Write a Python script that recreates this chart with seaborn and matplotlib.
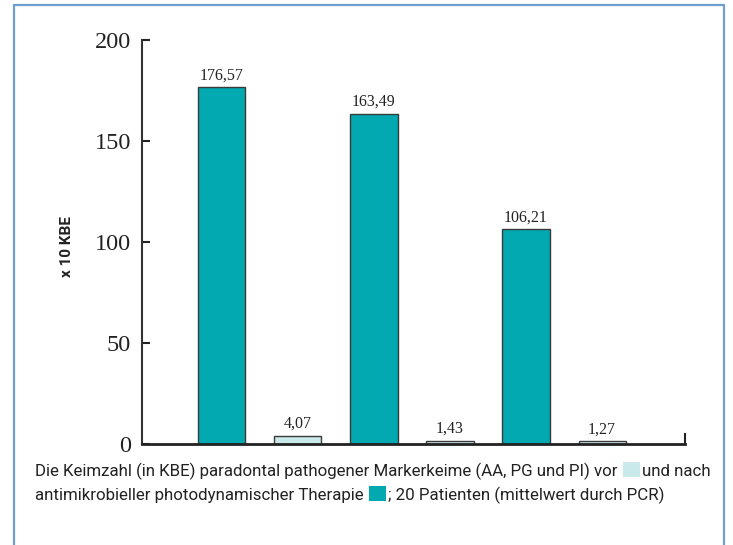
import matplotlib
matplotlib.use("Agg")
import matplotlib.pyplot as plt
import seaborn as sns
import pandas as pd
from matplotlib.patches import Rectangle
from matplotlib.lines import Line2D

# ---- data ----
categories = ["AA 1", "AA 2", "PG 1", "PG 2", "PI 1", "PI 2"]
values = [176.57, 4.07, 163.49, 1.43, 106.21, 1.27]
value_labels = ["176,57", "4,07", "163,49", "1,43", "106,21", "1,27"]
bar_colors = ["#02a9b1", "#c9e9eb", "#02a9b1", "#c9e9eb", "#02a9b1", "#c9e9eb"]
y_ticks = [0, 50, 100, 150, 200]
y_label = "x 10 KBE"
caption_1a = "Die Keimzahl (in KBE) paradontal pathogener Markerkeime (AA, PG und PI) vor "
caption_1b = "und nach"
caption_2a = "antimikrobieller photodynamischer Therapie "
caption_2b = "; 20 Patienten (mittelwert durch PCR)"

sns.set_theme(style="white")
serif = ["Liberation Serif", "DejaVu Serif"]
sans = ["Roboto", "Liberation Sans", "DejaVu Sans"]

W, H = 733, 545
fig = plt.figure(figsize=(W / 100, H / 100), dpi=100)
fig.patch.set_facecolor("white")

ax = fig.add_axes([142 / W, 1 - 444 / H, (685 - 142) / W, (444 - 40) / H])
df = pd.DataFrame({"cat": categories, "val": values})
sns.barplot(data=df, x="cat", y="val", hue="cat", palette=bar_colors,
            legend=False, width=0.62, ax=ax, saturation=1,
            edgecolor="#3a3a3a", linewidth=1.0)

for cont, lab in zip(ax.containers, value_labels):
    ax.bar_label(cont, labels=[lab], padding=3, fontsize=11.5,
                 family=serif, color="#222222")

ax.set_xlim(-1.05, 6.09)
ax.set_ylim(0, 200)
ax.set_yticks(y_ticks)
ax.set_yticklabels([str(t) for t in y_ticks], family=serif, fontsize=17.5,
                   color="#222222")
ax.tick_params(axis="y", direction="in", length=6, width=1.5, color="#222222",
               pad=8, left=True)
ax.set_xticks([])
ax.set_xlabel("")
ax.set_ylabel(y_label, family=sans, fontsize=11, fontweight="bold",
              color="#222222")
ax.yaxis.set_label_coords(-0.125, 0.49)

ax.spines["top"].set_visible(False)
ax.spines["left"].set_color("#333333")
ax.spines["left"].set_linewidth(1.5)
ax.spines["bottom"].set_color("#222222")
ax.spines["bottom"].set_linewidth(2)
ax.spines["right"].set_color("#222222")
ax.spines["right"].set_linewidth(1.5)
ax.spines["right"].set_bounds(0, 5)
ax.patch.set_alpha(0)

# frame
fc = "#6d9fd3"
fig.add_artist(Line2D([14 / W, 14 / W], [0, 1 - 5 / H], transform=fig.transFigure, color=fc, lw=1.6))
fig.add_artist(Line2D([724 / W, 724 / W], [0, 1 - 5 / H], transform=fig.transFigure, color=fc, lw=1.6))
fig.add_artist(Line2D([14 / W, 724 / W], [1 - 5 / H, 1 - 5 / H], transform=fig.transFigure, color=fc, lw=1.6))

# caption with inline swatches
fig.canvas.draw()
r = fig.canvas.get_renderer()
tcol = "#222222"
SW, SH = 17, 15

# fit font size so that line 1 ends near x=712
probe_fs = 12.0
pt = fig.text(0, 0, caption_1a + caption_1b, family=sans, fontsize=probe_fs)
pw = pt.get_window_extent(renderer=r).width
pt.remove()
fs = probe_fs * (712 - 35 - SW - 3) / pw


def put(x, y, s):
    t = fig.text(x / W, 1 - y / H, s, family=sans, fontsize=fs, color=tcol,
                 va="baseline", ha="left")
    bb = t.get_window_extent(renderer=r)
    return bb.x1


def swatch(x, y, color):
    fig.add_artist(Rectangle((x / W, 1 - (y + 1) / H), SW / W, SH / H,
                             transform=fig.transFigure, facecolor=color,
                             edgecolor="none"))
    return x + SW


x = put(35, 476, caption_1a)
x = swatch(x + 1, 476, bar_colors[1])
put(x + 2, 476, caption_1b)

x = put(35, 500, caption_2a)
x = swatch(x + 1, 500, bar_colors[0])
put(x + 2, 500, caption_2b)

fig.savefig("out.png", dpi=100)
